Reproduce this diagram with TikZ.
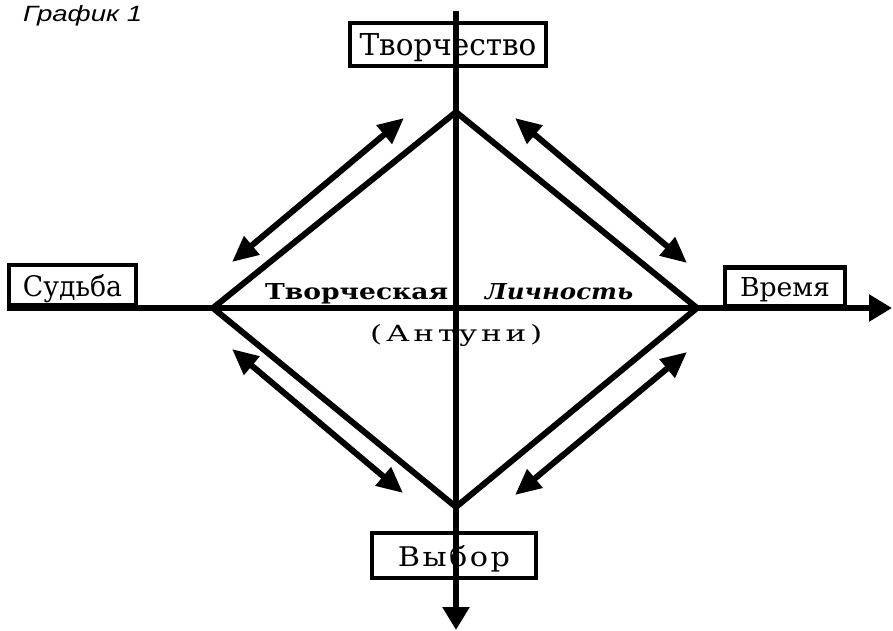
\documentclass[tikz,border=0pt]{standalone}
\usepackage{fontspec}
\setmainfont{DejaVu Serif}
\newfontfamily\graffont{Liberation Sans}
\usetikzlibrary{arrows.meta}
\newcommand{\fitlabel}[3]{\resizebox{#1pt}{#2pt}{#3}}
\begin{document}
\begin{tikzpicture}[x=1pt,y=-1pt,
  axis/.style={line width=5.5pt, -{Triangle[length=23pt,width=26pt]}},
  edge/.style={line width=6pt, line join=miter},
  twoway/.style={line width=6pt, {Triangle[length=26pt,width=23pt]}-{Triangle[length=26pt,width=23pt]}},
  lbox/.style={draw, line width=4.5pt, inner sep=0pt, text depth=0pt},
  lab/.style={inner sep=0pt, anchor=base west}]
\useasboundingbox (0,0) rectangle (893,630);
% boxes
\node[lbox, minimum width=196pt, minimum height=43pt] (tvb) at (448,44.5) {\fitlabel{177}{22}{Творчество}};
\node[lbox, minimum width=127pt, minimum height=40pt] (sud) at (72.5,285) {\fitlabel{99}{22}{Судьба}};
\node[lbox, minimum width=120pt, minimum height=39pt] (vre) at (785,287) {\fitlabel{90}{19}{Время}};
\node[lbox, minimum width=164pt, minimum height=45pt] (vyb) at (454,555.5) {\fitlabel{112}{21}{\addfontfeature{LetterSpace=8}Выбор}};
% coordinates
\coordinate (T) at (456,112);
\coordinate (L) at (213,308);
\coordinate (R) at (697,308);
\coordinate (B) at (456,507);
\coordinate (xs) at (7,308);
\coordinate (xe) at (892,308);
\coordinate (ys) at (456,11);
\coordinate (ye) at (456,630);
\coordinate (a1) at (232,262); \coordinate (a2) at (404,118);
\coordinate (b1) at (515,118); \coordinate (b2) at (687,263);
\coordinate (c1) at (232,349); \coordinate (c2) at (403,493);
\coordinate (d1) at (515,495); \coordinate (d2) at (687,352);
% axes
\draw[axis] (xs) -- (xe);
\draw[axis] (ys) -- (ye);
% diamond
\draw[edge] (T) -- (R) -- (B) -- (L) -- cycle;
% double arrows
\draw[twoway] (a1) -- (a2);
\draw[twoway] (b1) -- (b2);
\draw[twoway] (c1) -- (c2);
\draw[twoway] (d1) -- (d2);
% labels
\node[lab] (tc) at (265,299) {\fitlabel{183}{16}{\bfseries Творческая}};
\node[lab] (li) at (485,299) {\fitlabel{148}{16}{\bfseries\itshape Личность}};
\node[lab] (an) at (370,341) {\fitlabel{172}{17}{\addfontfeature{LetterSpace=12}(Антуни)}};
\node[lab] (gr) at (23,21) {\fitlabel{119}{16}{\graffont\itshape График 1}};
\end{tikzpicture}
\end{document}
